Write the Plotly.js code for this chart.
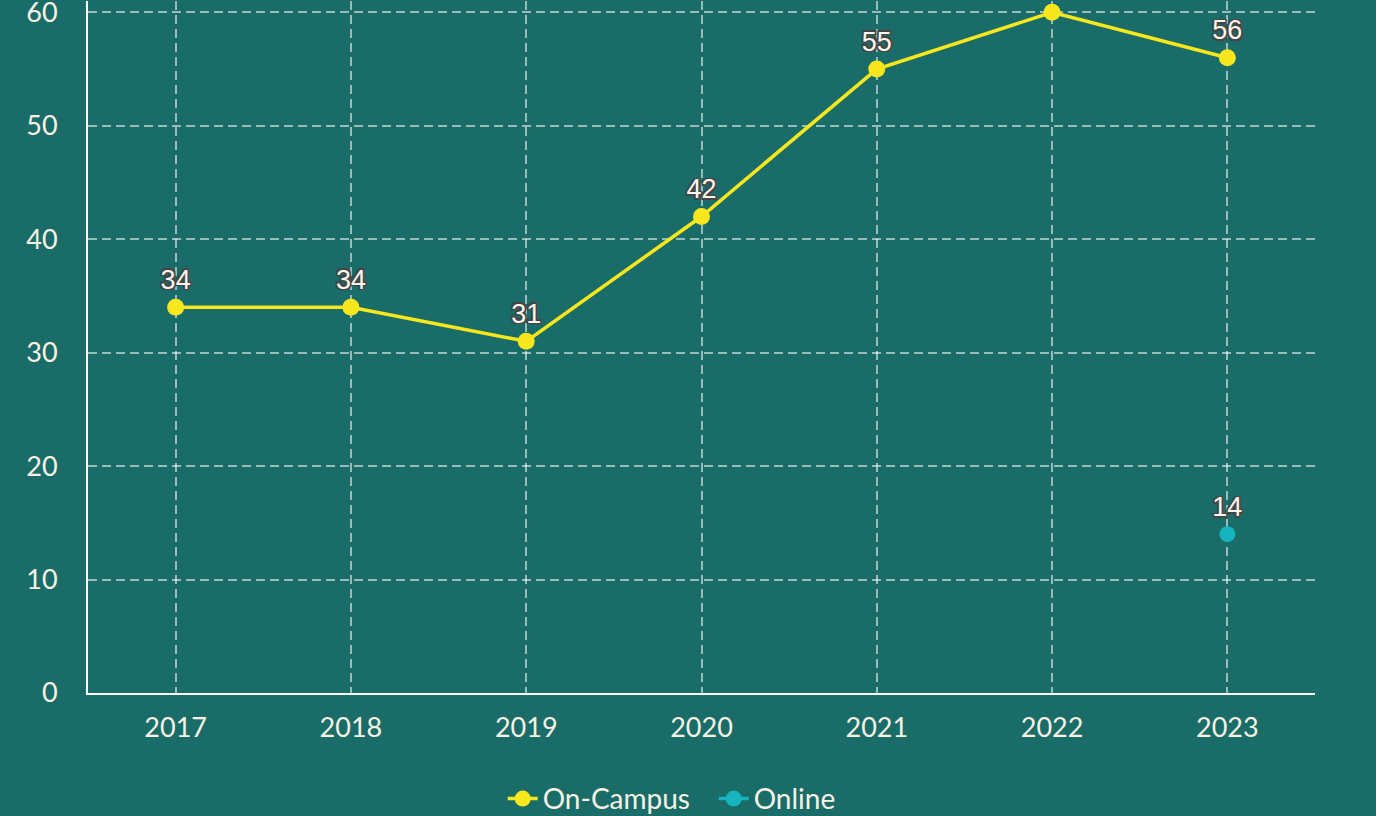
<!DOCTYPE html>
<html>
<head>
<meta charset="utf-8">
<script src="https://cdn.plot.ly/plotly-3.0.1.min.js"></script>
<style>
html,body{margin:0;padding:0;background:#196c68;}
#chart{width:1376px;height:816px;}
</style>
</head>
<body>
<div id="chart"></div>
<script>
const years = ["2017","2018","2019","2020","2021","2022","2023"];
const onCampus = [34, 34, 31, 42, 55, 60, 56];
const online = [null, null, null, null, null, null, 14];
const seriesNames = ["On-Campus", "Online"];
const yMax = 61;

const bg = "#196c68";
const cream = "#f7f2e4";
const o = "#454545";
const labelShadow = [
  "1.5px 1.5px 0 " + o, "-1.5px -1.5px 0 " + o, "1.5px -1.5px 0 " + o, "-1.5px 1.5px 0 " + o,
  "0 1.5px 0 " + o, "0 -1.5px 0 " + o, "1.5px 0 0 " + o, "-1.5px 0 0 " + o
].join(", ");
const labelFont = {family: "Liberation Sans, Arial, sans-serif", size: 27, color: "#fbf6ee", shadow: labelShadow};

// labels that would fall above the top of the picture are not shown (as in the reference)
const labelsFor = vals => vals.map(v => (v == null || v >= 60) ? "" : String(v));

const traces = [
  {
    x: years, y: onCampus, name: seriesNames[0], type: "scatter", mode: "lines+markers+text",
    text: labelsFor(onCampus),
    textposition: "top center", textfont: labelFont, cliponaxis: false,
    line: {color: "#f8e71c", width: 3.5},
    marker: {color: "#f8e71c", size: 17}
  },
  {
    x: years, y: online, name: seriesNames[1], type: "scatter", mode: "lines+markers+text",
    text: labelsFor(online),
    textposition: "top center", textfont: labelFont, cliponaxis: false,
    line: {color: "#17b3bf", width: 3.5},
    marker: {color: "#17b3bf", size: 16}
  }
];

const layout = {
  width: 1376, height: 816,
  paper_bgcolor: bg, plot_bgcolor: bg,
  margin: {l: 88, r: 61, t: 1, b: 123, pad: 0, autoexpand: false},
  font: {family: "Lato, sans-serif", color: cream, size: 27},
  showlegend: true,
  legend: {orientation: "h", x: 0.338, xanchor: "left", y: -0.153, yanchor: "middle",
           entrywidth: 166, entrywidthmode: "pixels",
           font: {family: "Lato, sans-serif", size: 28, color: cream}, bgcolor: "rgba(0,0,0,0)"},
  xaxis: {
    type: "category", range: [-0.5, 6.5],
    showline: true, linecolor: "#ffffff", linewidth: 2,
    showgrid: true, gridcolor: "rgba(255,255,255,0.55)", gridwidth: 2, griddash: "9px,5px",
    ticks: "", ticklabelstandoff: 10, automargin: false,
    tickfont: {family: "Lato, sans-serif", size: 27, color: cream},
    zeroline: false, fixedrange: true
  },
  yaxis: {
    range: [0, yMax], dtick: 10, tick0: 0,
    showline: true, linecolor: "#ffffff", linewidth: 2,
    showgrid: true, gridcolor: "rgba(255,255,255,0.55)", gridwidth: 2, griddash: "9px,5px",
    ticks: "", ticklabelstandoff: 23, ticklabeloverflow: "allow", automargin: false,
    tickfont: {family: "Lato, sans-serif", size: 27, color: cream},
    zeroline: false, fixedrange: true
  }
};

Plotly.newPlot("chart", traces, layout, {displayModeBar: false, staticPlot: true});
</script>
</body>
</html>
